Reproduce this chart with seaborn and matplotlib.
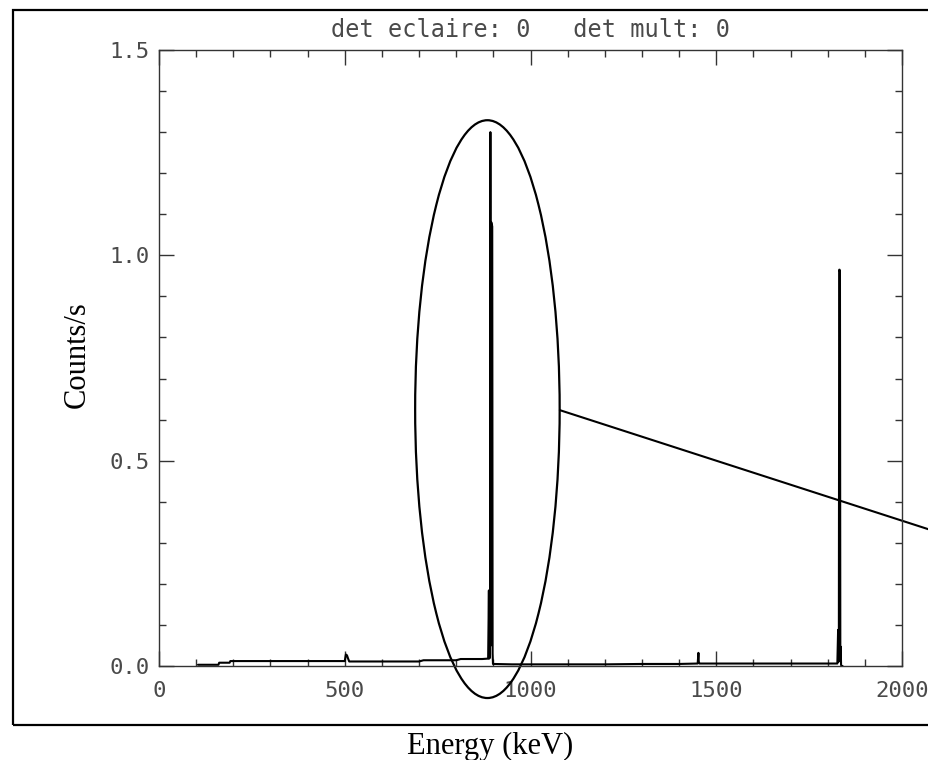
import matplotlib
matplotlib.use("Agg")
import matplotlib.pyplot as plt
from matplotlib.patches import Ellipse, Rectangle
from matplotlib.ticker import MultipleLocator
import seaborn as sns
import pandas as pd

# ---- data ----
energy_kev = [105, 160, 162, 190, 192, 300, 400, 500, 503, 506, 509, 512,
              600, 700, 712, 800, 812, 870, 886, 888, 889, 890, 891, 892,
              893, 894, 895, 896, 897, 898, 899, 950, 1000, 1100, 1200, 1300,
              1400, 1450, 1452, 1453, 1455, 1500, 1600, 1700, 1800, 1826,
              1828, 1829, 1830, 1831, 1832, 1833, 1834, 1835, 1836, 1837,
              1838, 1840]
counts_per_s = [0.003, 0.003, 0.008, 0.008, 0.012, 0.012, 0.012, 0.012, 0.028,
                0.026, 0.018, 0.011, 0.011, 0.011, 0.014, 0.014, 0.017, 0.017,
                0.018, 0.184, 0.018, 0.020, 0.050, 1.300, 0.050, 1.080, 1.080,
                1.075, 1.070, 0.030, 0.005, 0.004, 0.004, 0.004, 0.004, 0.005,
                0.005, 0.006, 0.032, 0.010, 0.006, 0.006, 0.006, 0.006, 0.006,
                0.006, 0.088, 0.010, 0.020, 0.965, 0.965, 0.960, 0.020, 0.047,
                0.003, 0.000, 0.000, 0.000]

x_ticks = [0, 500, 1000, 1500, 2000]
y_ticks = [0.0, 0.5, 1.0, 1.5]
y_tick_labels = ["0.0", "0.5", "1.0", "1.5"]
title_text = "det eclaire: 0   det mult: 0"
x_label = "Energy (keV)"
y_label = "Counts/s"

# annotation geometry (data units)
ellipse_center = (884, 0.6255)
ellipse_size = (389, 1.407)
pointer_x = [1079, 2102]
pointer_y = [0.623, 0.324]

df = pd.DataFrame({"energy": energy_kev, "counts": counts_per_s})

sns.set_theme(style="ticks")
plt.rcParams["font.family"] = ["DejaVu Sans"]

fig = plt.figure(figsize=(9.29, 7.60), dpi=100)
ax = fig.add_axes([159 / 929, 1 - 666 / 760, 743 / 929, 616 / 760])

sns.lineplot(data=df, x="energy", y="counts", ax=ax, color="black",
             linewidth=1.5, estimator=None, sort=False)

ax.set_xlim(0, 2000)
ax.set_ylim(0, 1.5)
ax.set_xticks(x_ticks)
ax.set_xticklabels([str(t) for t in x_ticks])
ax.set_yticks(y_ticks)
ax.set_yticklabels(y_tick_labels)
ax.xaxis.set_minor_locator(MultipleLocator(100))
ax.yaxis.set_minor_locator(MultipleLocator(0.1))

for lab in ax.get_xticklabels() + ax.get_yticklabels():
    lab.set_fontfamily("DejaVu Sans Mono")
    lab.set_fontsize(16)
    lab.set_color("#4a4a4a")

ax.tick_params(which="both", direction="in", top=True, right=True,
               color="#333333", width=1.0)
ax.tick_params(which="major", length=11)
ax.tick_params(which="minor", length=5)
ax.tick_params(axis="x", which="major", pad=11)
ax.tick_params(axis="y", which="major", pad=7)
for sp in ax.spines.values():
    sp.set_color("#333333")
    sp.set_linewidth(1.0)

ax.set_title(title_text, fontfamily="DejaVu Sans Mono", fontsize=17,
             color="#4a4a4a", pad=9.5)

ax.set_xlabel(x_label, fontfamily="Liberation Serif", fontsize=22,
              color="black", va="baseline")
ax.xaxis.set_label_coords((490 - 159) / 743, -(754 - 666) / 616)
ax.set_ylabel(y_label, fontfamily="Liberation Serif", fontsize=22,
              color="black", va="center", ha="center")
ax.yaxis.set_label_coords((77 - 159) / 743, 0.505)

# annotation: ellipse and pointer line
ell = Ellipse(ellipse_center, ellipse_size[0], ellipse_size[1], fill=False,
              edgecolor="black", linewidth=1.6, clip_on=False)
ax.add_patch(ell)
ax.plot(pointer_x, pointer_y, color="black", linewidth=1.5, clip_on=False)

# outer frame (cut off on the right in the reference)
frame = Rectangle((13 / 929, 1 - 725 / 760), 1.2, (725 - 9.5) / 760,
                  transform=fig.transFigure, fill=False, edgecolor="black",
                  linewidth=1.6, clip_on=False)
fig.patches.append(frame)

fig.savefig("out.png", dpi=100)
